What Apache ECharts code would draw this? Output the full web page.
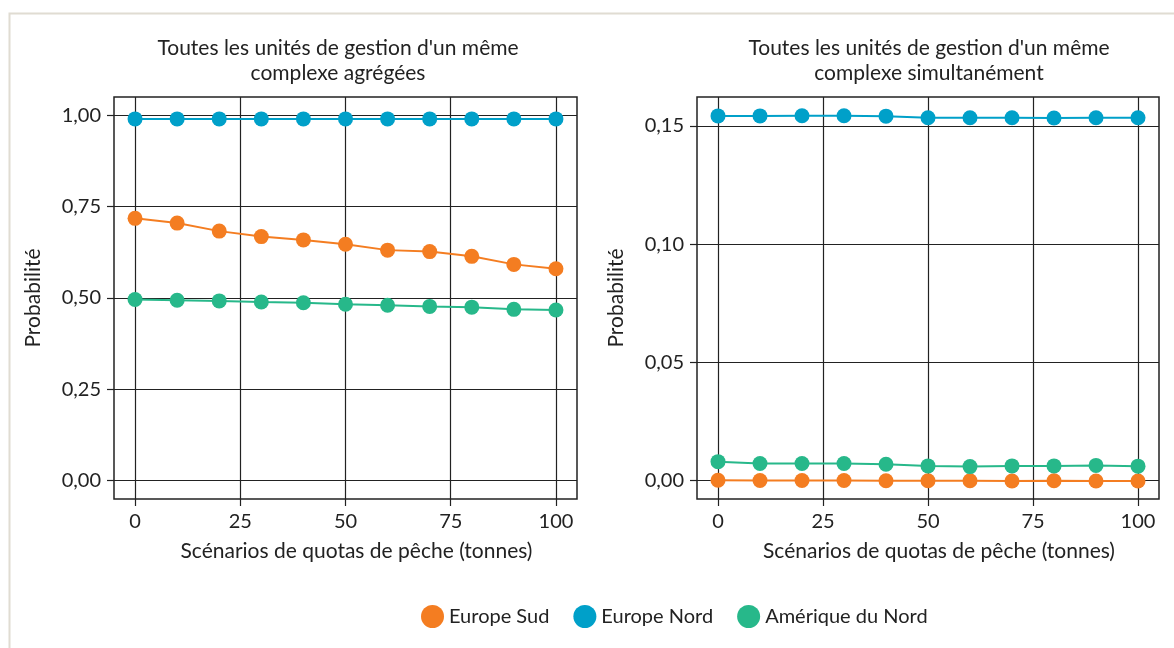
<!DOCTYPE html>
<html>
<head>
<meta charset="utf-8">
<script src="https://cdn.jsdelivr.net/npm/echarts@6/dist/echarts.min.js"></script>
<style>
html,body{margin:0;padding:0;background:#fff;}
#c{width:1174px;height:648px;}
</style>
</head>
<body>
<div id="c"></div>
<script>
const quotas = [0, 10, 20, 30, 40, 50, 60, 70, 80, 90, 100];
const seriesNames = ['Europe Sud', 'Europe Nord', 'Amérique du Nord'];
const colors = ['#F47D21', '#00A0C9', '#27B88A'];

// Left panel: aggregated
const aggSud = [0.718, 0.705, 0.683, 0.668, 0.659, 0.647, 0.631, 0.627, 0.614, 0.592, 0.580];
const aggNord = [0.990, 0.990, 0.990, 0.990, 0.990, 0.990, 0.990, 0.990, 0.990, 0.990, 0.990];
const aggAmerique = [0.496, 0.494, 0.492, 0.489, 0.487, 0.483, 0.480, 0.477, 0.475, 0.469, 0.467];

// Right panel: simultaneous
const simSud = [0.0001, 0.0000, 0.0000, 0.0000, -0.0001, -0.0001, -0.0001, -0.0002, -0.0001, -0.0002, -0.0002];
const simNord = [0.1542, 0.1542, 0.1543, 0.1543, 0.1541, 0.1534, 0.1534, 0.1534, 0.1533, 0.1534, 0.1534];
const simAmerique = [0.0080, 0.0072, 0.0072, 0.0072, 0.0069, 0.0062, 0.0059, 0.0062, 0.0062, 0.0064, 0.0061];

const xTicks = [0, 25, 50, 75, 100];
const yTicksLeft = [0, 0.25, 0.5, 0.75, 1];
const yTicksRight = [0, 0.05, 0.10, 0.15];

const titles = ["Toutes les unités de gestion d'un même\ncomplexe agrégées",
                "Toutes les unités de gestion d'un même\ncomplexe simultanément"];
const xName = 'Scénarios de quotas de pêche (tonnes)';
const yName = 'Probabilité';

const FONT = 'Lato';
const TXT = '#222';
const FS = 21;

function pairs(vals){ return quotas.map((q,i)=>[q, vals[i]]); }
function fmt(v){ return v.toFixed(2).replace('.', ','); }

function xAxis(gi){
  return {
    type: 'value', gridIndex: gi, min: -5, max: 105,
    name: xName, nameLocation: 'middle', nameGap: 42,
    nameTextStyle: {color: TXT, fontFamily: FONT, fontSize: FS, padding: [0, 0, 0, 22]},
    axisLine: {show: false, onZero: false},
    axisTick: {show: true, inside: false, length: 7, lineStyle: {color: '#222', width: 1.2}, customValues: xTicks},
    axisLabel: {color: TXT, fontFamily: FONT, fontSize: 20, margin: 13, customValues: xTicks},
    splitLine: {show: true, lineStyle: {color: '#222', width: 1.2}}
  };
}
function yAxis(gi, min, max, ticks){
  return {
    type: 'value', gridIndex: gi, min: min, max: max,
    name: yName, nameLocation: 'middle', nameGap: 70, nameRotate: 90,
    nameTextStyle: {color: TXT, fontFamily: FONT, fontSize: FS},
    axisLine: {show: false, onZero: false},
    axisTick: {show: true, inside: false, length: 7, lineStyle: {color: '#222', width: 1.2}, customValues: ticks},
    axisLabel: {color: TXT, fontFamily: FONT, fontSize: 20, margin: 13, customValues: ticks, formatter: fmt},
    splitLine: {show: true, lineStyle: {color: '#222', width: 1.2}}
  };
}
function line(name, gi, vals, color){
  return {
    name: name, type: 'line', xAxisIndex: gi, yAxisIndex: gi,
    data: pairs(vals), symbol: 'circle', symbolSize: 15,
    itemStyle: {color: color}, lineStyle: {color: color, width: 2},
    animation: false, z: 5
  };
}

const chart = echarts.init(document.getElementById('c'));
chart.setOption({
  backgroundColor: '#fff',
  animation: false,
  graphic: [{
    type: 'rect', left: 7, top: 11, silent: true, z: -1,
    shape: {width: 1200, height: 700},
    style: {fill: 'none', stroke: '#e0dcd2', lineWidth: 2}
  }],
  title: [
    {text: titles[0], left: 333, top: 31, textAlign: 'center',
     textStyle: {color: TXT, fontFamily: FONT, fontSize: FS, fontWeight: 'normal', lineHeight: 25}},
    {text: titles[1], left: 924, top: 31, textAlign: 'center',
     textStyle: {color: TXT, fontFamily: FONT, fontSize: FS, fontWeight: 'normal', lineHeight: 25}}
  ],
  legend: {
    data: seriesNames, left: 416, top: 600, icon: 'circle',
    itemWidth: 23, itemHeight: 23, itemGap: 24,
    textStyle: {color: TXT, fontFamily: FONT, fontSize: 20}
  },
  grid: [
    {left: 114, top: 97, width: 463, height: 402, show: true, borderColor: '#222', borderWidth: 1.5, backgroundColor: 'transparent'},
    {left: 697, top: 97, width: 462, height: 402, show: true, borderColor: '#222', borderWidth: 1.5, backgroundColor: 'transparent'}
  ],
  xAxis: [xAxis(0), xAxis(1)],
  yAxis: [yAxis(0, -0.05, 1.05, yTicksLeft), yAxis(1, -0.0078, 0.1622, yTicksRight)],
  series: [
    line(seriesNames[0], 0, aggSud, colors[0]),
    line(seriesNames[1], 0, aggNord, colors[1]),
    line(seriesNames[2], 0, aggAmerique, colors[2]),
    line(seriesNames[0], 1, simSud, colors[0]),
    line(seriesNames[1], 1, simNord, colors[1]),
    line(seriesNames[2], 1, simAmerique, colors[2])
  ]
});
</script>
</body>
</html>
